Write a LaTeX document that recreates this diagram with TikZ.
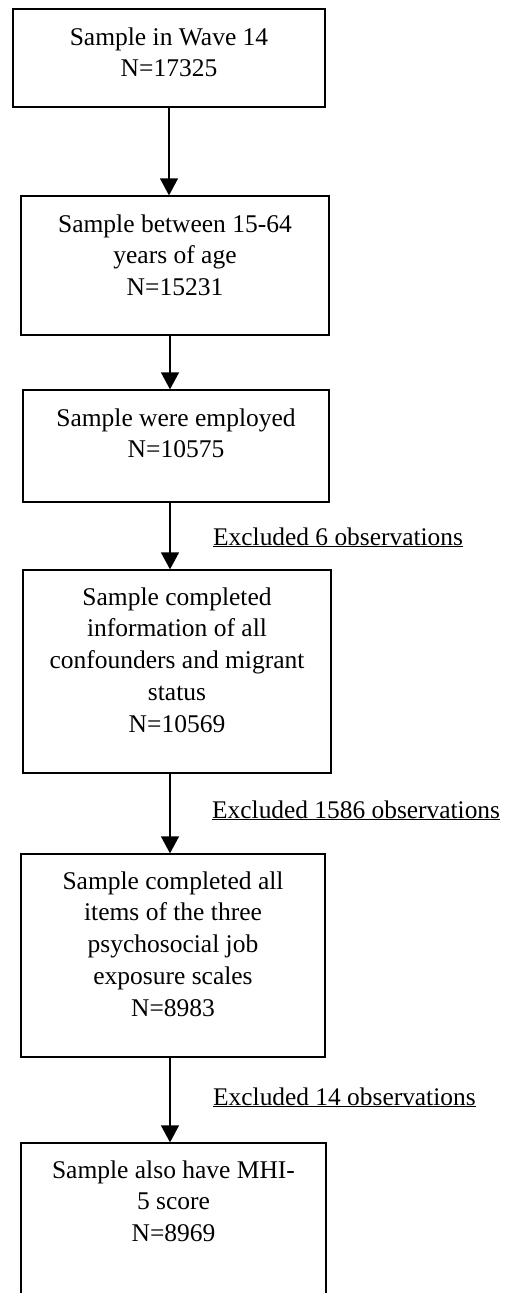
\documentclass[tikz,border=0pt]{standalone}
\usepackage{fontspec}
\setmainfont{Liberation Serif}
\usetikzlibrary{arrows.meta}
\begin{document}
\begin{tikzpicture}[x={(1pt,0)},y={(0,-1pt)},
  box/.style={draw, line width=1.3pt, rectangle, inner sep=0pt},
  txt/.style={anchor=north, inner sep=0pt, align=center, font=\fontsize{25.5}{31.7}\selectfont},
  lbl/.style={anchor=base west, inner sep=0pt, font=\fontsize{25.4}{31.7}\selectfont},
  arr/.style={line width=1.3pt, -{Triangle[width=18pt,length=17pt]}}]
\useasboundingbox (0,0) rectangle (505,1293);
\clip (0,0) rectangle (505,1293);

\node[box, minimum width=312pt, minimum height=98pt]  (b1) at (169,58) {};
\node[box, minimum width=308pt, minimum height=139pt] (b2) at (175,265.5) {};
\node[box, minimum width=306pt, minimum height=112pt] (b3) at (176,446) {};
\node[box, minimum width=308pt, minimum height=203pt] (b4) at (177,671.5) {};
\node[box, minimum width=304pt, minimum height=203pt] (b5) at (173,955.5) {};
\node[box, minimum width=305pt, minimum height=200pt] (b6) at (173.5,1243) {};

\node[txt] (t1) at ([yshift=-19pt]b1.north) {Sample in Wave 14\\N=17325};
\node[txt] (t2) at ([yshift=-19pt]b2.north) {Sample between 15-64\\years of age\\N=15231};
\node[txt] (t3) at ([yshift=-19pt]b3.north) {Sample were employed\\N=10575};
\node[txt] (t4) at ([yshift=-18pt]b4.north) {Sample completed\\information of all\\confounders and migrant\\status\\N=10569};
\node[txt] (t5) at ([yshift=-18pt]b5.north) {Sample completed all\\items of the three\\psychosocial job\\exposure scales\\N=8983};
\node[txt] (t6) at ([yshift=-18pt]b6.north) {Sample also have MHI-\\5 score\\N=8969};

\coordinate (ax) at (170,0);
\coordinate (ax1) at (169,0);
\draw[arr] (b1.south -| ax1) -- (b2.north -| ax1);
\draw[arr] (b2.south -| ax) -- (b3.north -| ax);
\draw[arr] (b3.south -| ax) -- (b4.north -| ax);
\draw[arr] (b4.south -| ax) -- (b5.north -| ax);
\draw[arr] (b5.south -| ax) -- (b6.north -| ax);

\node[lbl] (e1) at (213,545) {\underline{Excluded 6 observations}};
\node[lbl] (e2) at (212,818) {\underline{Excluded 1586 observations}};
\node[lbl] (e3) at (213,1105) {\underline{Excluded 14 observations}};
\end{tikzpicture}
\end{document}
